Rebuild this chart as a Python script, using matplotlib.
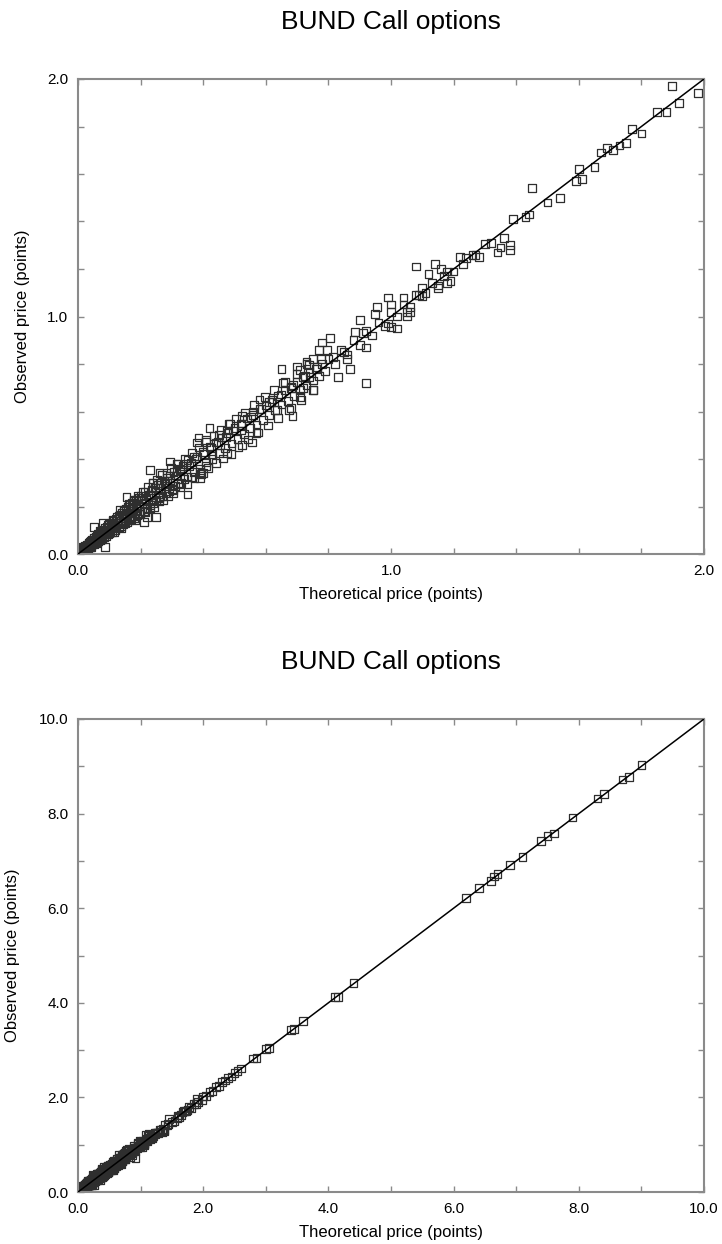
import matplotlib
matplotlib.use("Agg")
import matplotlib.pyplot as plt
from matplotlib.ticker import MultipleLocator, FormatStrFormatter

plt.rcParams["font.family"] = ["Liberation Sans", "DejaVu Sans"]

# ---------------- data (theoretical vs observed price, points) ----------------
theo_origin = [0.001, 0.002, 0.004, 0.005, 0.007, 0.009, 0.011, 0.013, 0.015, 0.017,
               0.019, 0.021, 0.024, 0.026, 0.028, 0.031, 0.033, 0.035, 0.039, 0.042,
               0.046, 0.049, 0.053, 0.058, 0.063, 0.068, 0.073, 0.078, 0.083, 0.088]
obs_origin = [0.001, 0.004, 0.002, 0.008, 0.005, 0.012, 0.008, 0.017, 0.012, 0.022,
              0.015, 0.026, 0.020, 0.031, 0.024, 0.037, 0.028, 0.042, 0.034, 0.050,
              0.040, 0.058, 0.047, 0.066, 0.056, 0.075, 0.066, 0.085, 0.074, 0.096]

theo_low = [0.003, 0.006, 0.008, 0.010, 0.012, 0.014, 0.016, 0.018, 0.020, 0.022,
            0.025, 0.027, 0.030, 0.032, 0.034, 0.036, 0.038, 0.040, 0.043, 0.045,
            0.047, 0.050, 0.052, 0.055, 0.057, 0.060, 0.062, 0.065, 0.067, 0.070,
            0.072, 0.075, 0.077, 0.080, 0.082, 0.085, 0.087, 0.090, 0.092, 0.095,
            0.097, 0.100, 0.103, 0.105, 0.108, 0.110, 0.113, 0.115, 0.118, 0.120,
            0.123, 0.125, 0.128, 0.130, 0.133, 0.135, 0.138, 0.140, 0.143, 0.145,
            0.148, 0.150, 0.153, 0.155, 0.158, 0.160, 0.163, 0.165, 0.168, 0.170,
            0.173, 0.175, 0.178, 0.180, 0.183, 0.185, 0.188, 0.190, 0.193, 0.195,
            0.198, 0.200]
obs_low = [0.008, 0.002, 0.020, 0.006, 0.016, 0.004, 0.032, 0.020, 0.012, 0.035,
           0.018, 0.040, 0.026, 0.022, 0.048, 0.038, 0.030, 0.055, 0.036, 0.060,
           0.050, 0.040, 0.068, 0.058, 0.045, 0.078, 0.055, 0.085, 0.070, 0.058,
           0.092, 0.080, 0.064, 0.100, 0.072, 0.108, 0.090, 0.076, 0.115, 0.100,
           0.082, 0.125, 0.092, 0.130, 0.112, 0.094, 0.140, 0.120, 0.100, 0.148,
           0.108, 0.155, 0.132, 0.112, 0.165, 0.140, 0.118, 0.172, 0.125, 0.180,
           0.152, 0.128, 0.190, 0.160, 0.135, 0.198, 0.142, 0.205, 0.172, 0.148,
           0.215, 0.180, 0.152, 0.222, 0.160, 0.228, 0.192, 0.165, 0.238, 0.200,
           0.170, 0.245]

theo_extra = [0.012, 0.024, 0.037, 0.041, 0.056, 0.061, 0.069, 0.074, 0.081, 0.094,
              0.099, 0.106, 0.112, 0.117, 0.124, 0.129, 0.137, 0.142, 0.147, 0.152,
              0.157, 0.162, 0.167, 0.172, 0.177, 0.182, 0.187, 0.192, 0.197, 0.203,
              0.208, 0.213, 0.218, 0.224, 0.229, 0.233, 0.238, 0.243, 0.248, 0.253,
              0.258, 0.263, 0.268, 0.273, 0.278, 0.283, 0.288, 0.293, 0.298, 0.303,
              0.312, 0.318, 0.327, 0.333, 0.342, 0.348, 0.356, 0.364, 0.372, 0.378,
              0.386, 0.394, 0.402, 0.408, 0.416, 0.424, 0.433, 0.441, 0.448, 0.457,
              0.463, 0.472, 0.481, 0.488, 0.496, 0.505, 0.513, 0.522, 0.534, 0.543,
              0.552, 0.563, 0.574, 0.586, 0.597, 0.606, 0.618, 0.627, 0.639, 0.648,
              0.662, 0.674, 0.687, 0.698, 0.712, 0.726, 0.738, 0.752, 0.764, 0.776]
obs_extra = [0.025, 0.016, 0.052, 0.030, 0.072, 0.049, 0.096, 0.061, 0.088, 0.121,
             0.087, 0.118, 0.140, 0.093, 0.131, 0.162, 0.108, 0.151, 0.187, 0.139,
             0.171, 0.213, 0.146, 0.188, 0.226, 0.141, 0.204, 0.243, 0.168, 0.222,
             0.262, 0.176, 0.231, 0.283, 0.192, 0.246, 0.301, 0.199, 0.262, 0.312,
             0.221, 0.279, 0.335, 0.228, 0.296, 0.341, 0.243, 0.309, 0.362, 0.256,
             0.331, 0.378, 0.281, 0.356, 0.402, 0.296, 0.371, 0.425, 0.318, 0.402,
             0.448, 0.336, 0.421, 0.472, 0.361, 0.447, 0.498, 0.383, 0.471, 0.521,
             0.402, 0.493, 0.548, 0.421, 0.520, 0.571, 0.452, 0.544, 0.596, 0.482,
             0.578, 0.627, 0.512, 0.609, 0.660, 0.541, 0.641, 0.690, 0.574, 0.672,
             0.723, 0.606, 0.713, 0.757, 0.648, 0.751, 0.797, 0.689, 0.786, 0.822]

theo_mid = [0.205, 0.21, 0.215, 0.22, 0.225, 0.23, 0.235, 0.24, 0.245, 0.25,
            0.255, 0.26, 0.265, 0.27, 0.275, 0.28, 0.285, 0.29, 0.295, 0.30,
            0.305, 0.31, 0.315, 0.32, 0.325, 0.33, 0.335, 0.34, 0.345, 0.35,
            0.36, 0.37, 0.38, 0.39, 0.40, 0.41, 0.42, 0.43, 0.44, 0.45,
            0.46, 0.47, 0.48, 0.49, 0.50, 0.51, 0.52, 0.53, 0.54, 0.55,
            0.56, 0.57, 0.58, 0.59, 0.60, 0.61, 0.62, 0.63, 0.64, 0.65,
            0.66, 0.67, 0.68, 0.69, 0.70, 0.71, 0.72, 0.73, 0.74, 0.75,
            0.76, 0.77, 0.78, 0.79, 0.80, 0.82, 0.84, 0.86, 0.88, 0.90,
            0.92, 0.94, 0.96, 0.98, 1.00, 1.02, 1.04, 1.06, 1.08, 1.10,
            1.13, 1.15, 1.18, 1.20, 1.24, 1.27, 1.30, 1.32]
obs_mid = [0.235, 0.18, 0.26, 0.195, 0.245, 0.205, 0.27, 0.215, 0.28, 0.225,
           0.29, 0.235, 0.30, 0.245, 0.31, 0.255, 0.32, 0.265, 0.33, 0.275,
           0.345, 0.285, 0.35, 0.295, 0.36, 0.30, 0.37, 0.315, 0.38, 0.325,
           0.385, 0.345, 0.41, 0.36, 0.43, 0.385, 0.45, 0.40, 0.47, 0.425,
           0.49, 0.445, 0.51, 0.465, 0.53, 0.485, 0.55, 0.505, 0.57, 0.53,
           0.585, 0.545, 0.61, 0.565, 0.625, 0.585, 0.65, 0.605, 0.665, 0.63,
           0.69, 0.645, 0.705, 0.665, 0.725, 0.69, 0.745, 0.71, 0.765, 0.73,
           0.78, 0.75, 0.80, 0.77, 0.82, 0.80, 0.86, 0.84, 0.90, 0.88,
           0.94, 0.92, 0.975, 0.96, 1.02, 1.00, 1.05, 1.04, 1.09, 1.085,
           1.14, 1.13, 1.19, 1.19, 1.245, 1.26, 1.305, 1.31]

theo_spread = [0.05, 0.08, 0.11, 0.086, 0.07, 0.155, 0.175, 0.135, 0.20, 0.22,
               0.25, 0.165, 0.21, 0.23, 0.26, 0.24, 0.285, 0.305, 0.26, 0.21,
               0.23, 0.295, 0.315, 0.35, 0.37, 0.325, 0.36, 0.35, 0.39, 0.41,
               0.40, 0.39, 0.42, 0.385, 0.38, 0.41, 0.45, 0.475, 0.485, 0.455,
               0.475, 0.43, 0.58, 0.61, 0.635, 0.56, 0.525, 0.52, 0.57, 0.525,
               0.555, 0.65, 0.70, 0.73, 0.655, 0.68, 0.71, 0.68, 0.685, 0.74,
               0.72, 0.75, 0.805, 0.78, 0.77, 0.75, 0.73, 0.71, 0.795, 0.815,
               0.85, 0.83, 0.86, 0.87, 0.885, 0.91, 0.92, 0.92, 0.955, 0.95,
               0.90, 0.99, 1.02, 1.00, 0.99, 1.00, 1.04, 1.05, 1.06, 1.05,
               1.10, 1.09, 1.11, 1.08, 1.14, 1.12, 1.16, 1.17, 1.19, 1.18,
               1.15, 1.22, 1.26, 1.28, 1.23, 1.34, 1.38, 1.36, 1.38, 1.35,
               1.44, 1.39, 1.43, 1.45, 1.54, 1.50, 1.60, 1.59, 1.61, 1.65,
               1.67, 1.69, 1.71, 1.73, 1.77, 1.80, 1.75, 1.88, 1.85, 1.92,
               1.898, 1.98]
obs_spread = [0.115, 0.13, 0.145, 0.03, 0.08, 0.24, 0.215, 0.185, 0.18, 0.155,
              0.155, 0.155, 0.135, 0.355, 0.34, 0.30, 0.30, 0.27, 0.24, 0.215,
              0.25, 0.39, 0.38, 0.395, 0.41, 0.355, 0.325, 0.25, 0.345, 0.37,
              0.34, 0.32, 0.53, 0.49, 0.47, 0.48, 0.50, 0.52, 0.55, 0.46,
              0.425, 0.42, 0.65, 0.64, 0.605, 0.60, 0.58, 0.52, 0.51, 0.46,
              0.47, 0.78, 0.79, 0.81, 0.72, 0.70, 0.66, 0.615, 0.58, 0.745,
              0.70, 0.69, 0.91, 0.89, 0.86, 0.82, 0.80, 0.775, 0.86, 0.83,
              0.85, 0.745, 0.82, 0.78, 0.935, 0.93, 0.87, 0.72, 1.04, 1.01,
              0.985, 0.97, 0.95, 0.955, 1.08, 1.05, 1.08, 1.02, 1.02, 1.00,
              1.12, 1.09, 1.10, 1.21, 1.22, 1.18, 1.20, 1.17, 1.15, 1.14,
              1.12, 1.25, 1.26, 1.25, 1.22, 1.27, 1.28, 1.33, 1.30, 1.29,
              1.43, 1.41, 1.42, 1.54, 1.50, 1.48, 1.62, 1.57, 1.58, 1.63,
              1.69, 1.71, 1.70, 1.72, 1.79, 1.77, 1.73, 1.86, 1.86, 1.90,
              1.97, 1.94]

theo_high = [2.00, 2.05, 2.10, 2.15, 2.20, 2.25, 2.30, 2.35, 2.40, 2.45,
             2.50, 2.55, 2.60, 2.80, 2.85, 3.00, 3.05, 3.40, 3.45, 3.60,
             4.10, 4.15, 4.40, 6.20, 6.40, 6.60, 6.65, 6.70, 6.90, 7.10,
             7.40, 7.50, 7.60, 7.90, 8.30, 8.40, 8.70, 8.80, 9.00]
obs_high = [2.02, 2.03, 2.12, 2.14, 2.22, 2.24, 2.32, 2.36, 2.41, 2.44,
            2.52, 2.56, 2.61, 2.82, 2.84, 3.02, 3.04, 3.42, 3.44, 3.62,
            4.12, 4.13, 4.42, 6.22, 6.42, 6.58, 6.67, 6.72, 6.92, 7.08,
            7.42, 7.52, 7.58, 7.92, 8.32, 8.41, 8.72, 8.78, 9.02]

title_text = "BUND Call options"
x_label = "Theoretical price (points)"
y_label = "Observed price (points)"

theoretical = theo_origin + theo_low + theo_extra + theo_mid + theo_spread + theo_high
observed = obs_origin + obs_low + obs_extra + obs_mid + obs_spread + obs_high

# ---------------- figure ----------------
W, H = 722, 1244
fig = plt.figure(figsize=(W / 100, H / 100), dpi=100)

panels = [
    # (left, top, right, bottom) in px, limit, major step, minor step, title baseline px, ylabel x px
    ((78, 79, 704, 554), 2.0, 1.0, 0.2, 29, 23),
    ((78, 719, 704, 1192), 10.0, 2.0, 1.0, 669, 13),
]

spine_col = "#8a8a8a"
for (l, t, r, b), lim, major, minor, tb, ylx in panels:
    ax = fig.add_axes([l / W, 1 - b / H, (r - l) / W, (b - t) / H])
    ax.scatter(theoretical, observed, marker="s", s=31, facecolors="none",
               edgecolors="#2e2e2e", linewidths=0.9, zorder=2)
    ax.plot([0, lim], [0, lim], color="black", lw=1.1, zorder=3)
    ax.set_xlim(0, lim)
    ax.set_ylim(0, lim)
    for axis in (ax.xaxis, ax.yaxis):
        axis.set_major_locator(MultipleLocator(major))
        axis.set_minor_locator(MultipleLocator(minor))
        axis.set_major_formatter(FormatStrFormatter("%.1f"))
    ax.tick_params(which="both", direction="in", length=4, width=1,
                   color=spine_col, top=True, right=True)
    ax.tick_params(which="major", labelsize=11, pad=7, labelcolor="black")
    for sp in ax.spines.values():
        sp.set_color(spine_col)
        sp.set_linewidth(1.5)
    ax.set_xlabel(x_label, fontsize=12)
    ax.set_ylabel(y_label, fontsize=12)
    ax.xaxis.label.set_va("center")
    ax.yaxis.label.set_va("center")
    ax.xaxis.set_label_coords(0.5, -40 / (b - t))
    ax.yaxis.set_label_coords((ylx - l) / (r - l), 0.5)
    fig.text((l + r) / 2 / W, 1 - tb / H, title_text, ha="center", va="baseline",
             fontsize=19)

fig.savefig("out.png", dpi=100)
